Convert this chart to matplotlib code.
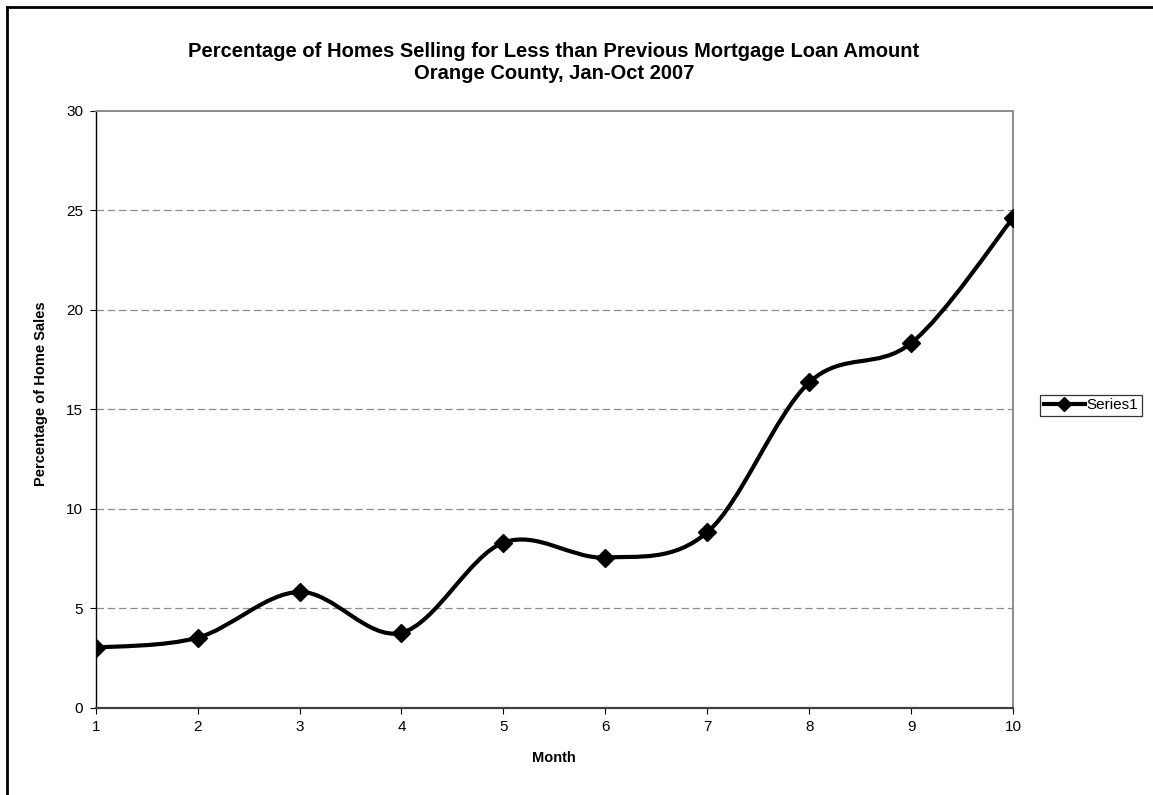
"""Share of Orange County home sales below the prior mortgage balance, 2007."""

import matplotlib

matplotlib.use("Agg")
import matplotlib.pyplot as plt
import numpy as np
from matplotlib.lines import Line2D
from matplotlib.patches import PathPatch
from matplotlib.path import Path

plt.rcParams["font.family"] = ["Liberation Sans", "DejaVu Sans"]

months = [1, 2, 3, 4, 5, 6, 7, 8, 9, 10]
pct_below_loan = [3.02, 3.52, 5.82, 3.77, 8.30, 7.55, 8.82, 16.35, 18.33, 24.62]
series_name = "Series1"
title = (
    "Percentage of Homes Selling for Less than Previous Mortgage Loan Amount\n"
    "Orange County, Jan-Oct 2007"
)


def smooth_path(xs, ys, tension=1.0 / 6.0):
    """Cubic Bezier path through every point, Catmull-Rom style tangents."""
    pts = np.column_stack([xs, ys]).astype(float)
    n = len(pts)
    verts = [pts[0]]
    codes = [Path.MOVETO]
    for i in range(n - 1):
        p0 = pts[max(i - 1, 0)]
        p1 = pts[i]
        p2 = pts[i + 1]
        p3 = pts[min(i + 2, n - 1)]
        c1 = p1 + (p2 - p0) * tension
        c2 = p2 - (p3 - p1) * tension
        verts.extend([c1, c2, p2])
        codes.extend([Path.CURVE4] * 3)
    return Path(np.array(verts), codes)


fig = plt.figure(figsize=(11.53, 7.95), dpi=100)
ax = fig.add_axes([0.083, 0.1098, 0.7956, 0.7506])

curve = PathPatch(
    smooth_path(months, pct_below_loan),
    facecolor="none",
    edgecolor="black",
    linewidth=3.0,
    capstyle="round",
    joinstyle="round",
    zorder=3,
)
ax.add_patch(curve)
ax.plot(months, pct_below_loan, linestyle="none", marker="D", markersize=9,
        color="black", zorder=4)

ax.set_xlim(1, 10)
ax.set_ylim(0, 30)
ax.set_xticks(months)
ax.set_yticks(np.arange(0, 31, 5))
for level in range(5, 30, 5):
    ax.axhline(level, color="#8c8c8c", linewidth=0.9, dashes=(6, 3), zorder=1)

ax.tick_params(axis="both", direction="out", length=4, width=0.8,
               labelsize=11, colors="black", pad=5)
ax.spines["left"].set_color("black")
ax.spines["left"].set_linewidth(1.0)
ax.spines["bottom"].set_color("#404040")
ax.spines["bottom"].set_linewidth(1.6)
for side in ("top", "right"):
    ax.spines[side].set_color("#8c8c8c")
    ax.spines[side].set_linewidth(1.4)

ax.set_xlabel("Month", fontsize=10.5, fontweight="bold", labelpad=12)
ax.set_ylabel("Percentage of Home Sales", fontsize=10.5, fontweight="bold",
              labelpad=10)
ax.yaxis.set_label_coords(-0.052, 0.526)
fig.text(0.4805, 0.921, title, ha="center", va="center", fontsize=14.5,
         fontweight="bold", linespacing=1.2)

handle = Line2D([], [], color="black", linewidth=3.0, marker="D",
                markersize=7)
leg = fig.legend([handle], [series_name], loc="center left",
                 bbox_to_anchor=(0.902, 0.49), fontsize=11,
                 frameon=True, fancybox=False, handlelength=2.7,
                 handletextpad=0.1, borderpad=0.25, borderaxespad=0)
leg.get_frame().set_edgecolor("black")
leg.get_frame().set_linewidth(0.9)

# chart border, only the top and left edges fall inside the canvas
fig.add_artist(Line2D([0.0065, 0.0065], [0.0, 0.9915], color="black",
                      linewidth=2.0, transform=fig.transFigure))
fig.add_artist(Line2D([0.0065, 1.0], [0.9915, 0.9915], color="black",
                      linewidth=2.0, transform=fig.transFigure))

fig.savefig("out.png", dpi=100)
plt.close(fig)
